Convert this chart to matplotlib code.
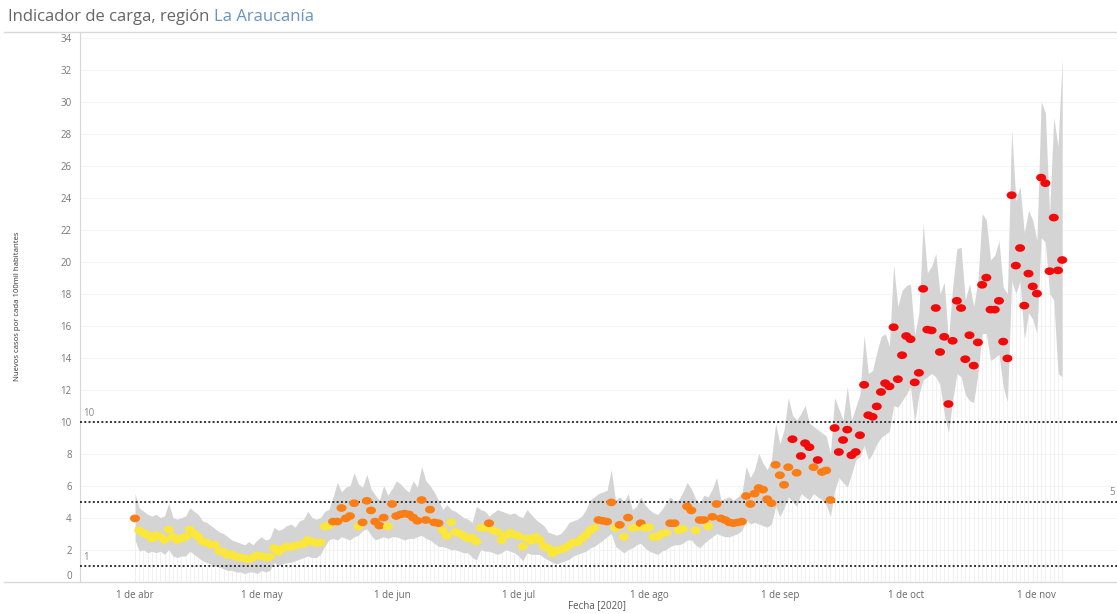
import numpy as np
import pandas as pd
import matplotlib
matplotlib.use("Agg")
import matplotlib.pyplot as plt
import matplotlib.dates as mdates
from matplotlib.lines import Line2D
from matplotlib.path import Path
from matplotlib.transforms import Affine2D

plt.rcParams["font.family"] = ["Open Sans", "DejaVu Sans"]

# --- data (one value per day from 1 Apr 2020) ---
START = "2020-04-01"

casos_abr = [3.95, 3.2, 3.05, 2.9, 2.7, 2.9, 2.8, 2.6, 3.25, 2.8, 2.6, 2.7, 2.8, 3.25, 3.0,
             2.8, 2.5, 2.45, 2.3, 2.3, 1.9, 1.85, 1.65, 1.7, 1.55, 1.5, 1.45, 1.4, 1.5, 1.65]
casos_may = [1.6, 1.5, 1.55, 2.1, 1.85, 2.05, 2.2, 2.15, 2.25, 2.3, 2.35, 2.6, 2.5, 2.4, 2.45,
             3.45, 3.5, 3.75, 3.75, 4.6, 3.95, 4.1, 4.9, 3.45, 3.7, 5.05, 4.45, 3.75, 3.5, 4.0, 3.45]
casos_jun = [4.85, 4.1, 4.2, 4.25, 4.2, 4.0, 3.8, 5.1, 3.85, 4.5, 3.7, 3.65, 3.2, 2.85, 3.7,
             3.1, 3.0, 2.85, 2.7, 2.75, 2.5, 3.35, 3.35, 3.65, 3.2, 3.1, 2.6, 2.9, 3.05, 2.95]
casos_jul = [2.85, 2.2, 2.7, 2.55, 2.8, 2.6, 2.2, 2.1, 1.75, 1.95, 2.0, 2.1, 2.25, 2.45, 2.45,
             2.7, 2.9, 3.2, 3.35, 3.85, 3.8, 3.75, 4.95, 3.35, 3.55, 2.8, 4.0, 3.35, 3.4, 3.65, 3.35]
casos_ago = [3.4, 2.8, 2.8, 3.0, 3.05, 3.65, 3.65, 3.2, 3.3, 4.7, 4.45, 3.2, 3.85, 3.85, 3.45,
             4.05, 4.85, 3.95, 3.85, 3.7, 3.65, 3.7, 3.75, 5.35, 4.85, 5.5, 5.85, 5.75, 5.15, 4.9, 7.3]
casos_sep = [6.65, 6.05, 7.15, 8.9, 6.8, 7.85, 8.65, 8.4, 7.15, 7.6, 6.85, 6.95, 5.1, 9.6, 8.1,
             8.85, 9.5, 7.9, 8.1, 9.15, 12.3, 10.4, 10.3, 10.95, 11.85, 12.4, 12.2, 15.9, 12.65, 14.15]
casos_oct = [15.35, 15.15, 12.45, 13.05, 18.3, 15.75, 15.7, 17.1, 14.35, 15.3, 11.1, 15.05, 17.55,
             17.1, 13.9, 15.4, 13.5, 14.95, 18.55, 19.0, 17.0, 17.0, 17.55, 15.0, 13.95, 24.15,
             19.75, 20.85, 17.25, 19.25, 18.45]
casos_nov = [18.0, 25.25, 24.9, 19.4, 22.75, 19.45, 20.1]

# y = amarillo, o = naranjo, r = rojo
nivel_abr = "oyyyyyyyyyyyyyyyyyyyyyyyyyyyyy"
nivel_may = "yyyyyyyyyyyyyyyyyooooooyooooooy"
nivel_jun = "ooooooooooooyyyyyyyyyyyoyyyyyy"
nivel_jul = "yyyyyyyyyyyyyyyyyyyooooyoyoyyoy"
nivel_ago = "yyyyyooyyooyooyoooooooooooooooo"
nivel_sep = "ooororrrorooorrrrrrrrrrrrrrrrr"
nivel_oct = "rrrrrrrrrrrrrrrrrrrrrrrrrrrrrrr"
nivel_nov = "rrrrrrr"

band_hi = [5.5, 4.6, 4.4, 4.2, 4.1, 4.2, 4.0, 4.1, 4.9, 4.0,
           3.9, 4.0, 4.1, 4.6, 4.4, 4.2, 3.8, 3.7, 3.5, 3.3,
           3.1, 3.0, 2.8, 2.6, 2.5, 2.4, 2.3, 2.5, 2.3, 2.6,
           2.8, 2.6, 2.7, 3.4, 3.2, 3.3, 3.5, 3.6, 3.4, 3.8,
           3.9, 4.4, 4.0, 3.9, 4.0, 4.4, 4.5, 5.3, 6.2, 5.6,
           5.9, 6.0, 6.8, 6.1, 5.9, 6.7, 5.8, 5.4, 5.1, 6.0,
           5.4, 5.8, 6.3, 6.1, 5.8, 5.6, 6.3, 5.9, 7.2, 6.3,
           6.0, 5.6, 5.1, 4.5, 4.8, 4.5, 4.4, 4.2, 4.0, 3.9,
           3.7, 4.7, 4.5, 4.4, 4.1, 4.3, 4.5, 4.4, 4.3, 4.2,
           4.3, 4.1, 4.0, 4.5, 4.2, 3.9, 3.7, 3.5, 3.1, 3.0,
           2.9, 3.0, 3.3, 3.7, 3.8, 3.9, 4.1, 4.5, 5.1, 5.3,
           5.5, 5.6, 5.7, 7.0, 5.1, 5.3, 5.0, 5.5, 4.5, 4.7,
           5.3, 4.8, 4.5, 4.3, 4.2, 4.5, 4.9, 5.3, 5.0, 5.1,
           5.6, 6.2, 5.8, 5.2, 4.9, 5.4, 5.3, 5.8, 6.5, 5.1,
           5.2, 5.3, 5.1, 5.3, 5.5, 7.2, 6.5, 7.0, 8.0, 7.4,
           7.0, 7.6, 9.9, 8.6, 9.5, 11.5, 10.4, 10.1, 10.5, 11.0,
           9.9, 9.7, 9.5, 9.3, 9.1, 8.0, 11.5, 10.8, 10.1, 12.2,
           10.1, 10.9, 11.7, 15.4, 13.0, 13.2, 14.3, 15.3, 15.5, 14.7,
           19.8, 17.2, 18.2, 18.5, 18.6, 15.4, 16.8, 22.4, 19.3, 19.7,
           20.5, 18.0, 18.7, 15.1, 18.4, 20.8, 20.9, 17.6, 18.6, 17.2,
           18.8, 23.0, 22.6, 20.1, 20.4, 21.3, 18.4, 18.0, 28.3, 23.8,
           24.7, 21.8, 23.2, 22.6, 21.3, 30.0, 29.3, 23.0, 29.0, 27.2, 32.7]
band_lo = [2.6, 1.9, 2.0, 1.8, 1.9, 1.8, 1.9, 1.7, 2.0, 1.6,
           1.5, 1.6, 1.6, 1.9, 1.7, 1.5, 1.3, 1.2, 1.1, 1.0,
           0.9, 0.8, 0.7, 0.7, 0.6, 0.6, 0.5, 0.6, 0.6, 0.5,
           0.7, 0.6, 0.7, 1.2, 1.0, 1.1, 1.2, 1.2, 1.3, 1.4,
           1.5, 1.6, 1.5, 1.5, 1.7, 2.2, 2.6, 2.7, 2.6, 2.8,
           2.7, 2.6, 2.8, 2.9, 3.2, 3.3, 2.9, 2.6, 2.7, 2.8,
           2.7, 2.8, 2.8, 2.7, 2.6, 2.7, 2.7, 2.8, 2.9, 2.7,
           2.6, 2.4, 2.2, 2.2, 2.1, 2.0, 2.0, 1.9, 1.8, 1.8,
           1.5, 1.35, 2.0, 1.9, 1.9, 1.8, 1.7, 1.8, 2.0, 1.9,
           1.8, 1.6, 1.3, 1.8, 1.7, 1.7, 1.7, 1.5, 1.35, 1.2,
           1.1, 1.2, 1.3, 1.4, 1.6, 1.7, 1.8, 1.9, 2.1, 2.2,
           2.4, 2.6, 2.8, 3.0, 2.2, 2.0, 1.8, 2.0, 2.1, 2.3,
           2.4, 2.1, 1.9, 1.8, 1.7, 1.9, 2.0, 2.2, 2.3, 2.3,
           2.4, 2.6, 2.6, 2.3, 2.1, 2.4, 2.6, 2.8, 3.0, 2.9,
           2.8, 2.8, 2.9, 3.0, 3.2, 3.85, 3.6, 3.7, 3.6, 3.5,
           3.4, 3.6, 4.7, 4.05, 4.6, 5.3, 5.0, 4.7, 5.5, 5.3,
           5.1, 5.5, 5.3, 5.1, 4.8, 4.05, 5.7, 6.5, 6.2, 5.9,
           6.7, 7.6, 7.8, 8.5, 7.6, 8.0, 8.6, 9.0, 9.2, 9.4,
           11.0, 10.9, 11.3, 11.7, 12.2, 9.9, 11.7, 12.6, 12.8, 13.0,
           12.8, 12.3, 10.5, 9.3, 11.3, 13.0, 12.8, 11.7, 11.3, 11.2,
           13.0, 15.5, 15.5, 13.8, 14.0, 14.2, 12.2, 11.2, 18.8, 18.0,
           18.8, 15.1, 16.8, 16.4, 15.5, 21.5, 21.2, 18.0, 17.6, 13.0, 12.8]

umbrales = [10, 5, 1]
yticks = [0, 2, 4, 6, 8, 10, 12, 14, 16, 18, 20, 22, 24, 26, 28, 30, 32, 34]
meses = ["2020-04-01", "2020-05-01", "2020-06-01", "2020-07-01",
         "2020-08-01", "2020-09-01", "2020-10-01", "2020-11-01"]
mes_labels = ["1 de abr", "1 de may", "1 de jun", "1 de jul",
              "1 de ago", "1 de sep", "1 de oct", "1 de nov"]

COLORES = {"y": "#fbe63a", "o": "#fb7d14", "r": "#f20a0a"}

casos = casos_abr + casos_may + casos_jun + casos_jul + casos_ago + casos_sep + casos_oct + casos_nov
nivel = nivel_abr + nivel_may + nivel_jun + nivel_jul + nivel_ago + nivel_sep + nivel_oct + nivel_nov
fechas = pd.date_range(START, periods=len(casos), freq="D")
x = mdates.date2num(fechas)

W, H = 1117, 614
fig = plt.figure(figsize=(W / 100, H / 100), dpi=100)
top_px, bot_px, left_px = 32, 581.6, 80
ax = fig.add_axes([left_px / W, (H - bot_px) / H, (W - left_px) / W, (bot_px - top_px) / H])

x0 = mdates.date2num(pd.Timestamp(START))
ax.set_xlim(x0 - 13.05, x0 + 233)
ax.set_ylim(0, 34.35)

# faint whiskers from the axis up to the band
ax.vlines(x, 0, band_lo, color="#f1f1f1", lw=0.7, zorder=1)
ax.fill_between(x, band_lo, band_hi, color="#d4d4d4", lw=0, zorder=2)

for u in umbrales:
    ax.axhline(u, color="#333333", ls=(0, (1, 1.2)), lw=1.4, zorder=3)

# Tableau draws slightly wide circles
elipse = Path.unit_circle().transformed(Affine2D().scale(1.3, 1.0))
cols = [COLORES[c] for c in nivel]
ax.scatter(x, casos, c=cols, s=52, marker=elipse, linewidths=0, zorder=4)

ax.text(x0 - 12.3, 10.15, "10", fontsize=7, color="#888888", va="bottom", ha="left")
ax.text(x0 - 12.3, 1.15, "1", fontsize=7, color="#888888", va="bottom", ha="left")
ax.text(x0 + 232.5, 5.25, "5", fontsize=7, color="#888888", va="bottom", ha="right")

ax.set_yticks(yticks)
ax.set_yticklabels([str(t) for t in yticks], fontsize=7, color="#777777")
ax.get_yticklabels()[0].set_va("bottom")
ax.set_xticks(mdates.date2num(pd.to_datetime(meses)))
ax.set_xticklabels(mes_labels, fontsize=7, color="#666666")
ax.tick_params(axis="both", length=0, pad=6)
ax.grid(axis="y", color="#f4f4f4", lw=0.8)
ax.set_axisbelow(True)
for s in ["top", "right", "bottom"]:
    ax.spines[s].set_visible(False)
ax.spines["left"].set_color("#d6d6d6")

fig.text(597 / W, 1 - 606 / H, "Fecha [2020]", fontsize=7, color="#555555",
         ha="center", va="center")
fig.text(18 / W, 1 - 306 / H, "Nuevos casos por cada 100mil habitantes", rotation=90,
         fontsize=5.6, color="#333333", ha="center", va="center")

# header lines
fig.add_artist(Line2D([4 / W, 1], [1 - 32 / H] * 2, color="#d9d9d9", lw=1))
fig.add_artist(Line2D([4 / W, 1], [1 - 581.5 / H] * 2, color="#d9d9d9", lw=1))

t1 = fig.text(8 / W, 1 - 17 / H, "Indicador de carga, región ", fontsize=12,
              color="#666666", va="center", ha="left")
fig.canvas.draw()
bb = t1.get_window_extent()
fig.text(bb.x1 / W, 1 - 17 / H, "La Araucanía", fontsize=12, color="#6a93c4",
         va="center", ha="left")

fig.savefig("out.png", dpi=100)
